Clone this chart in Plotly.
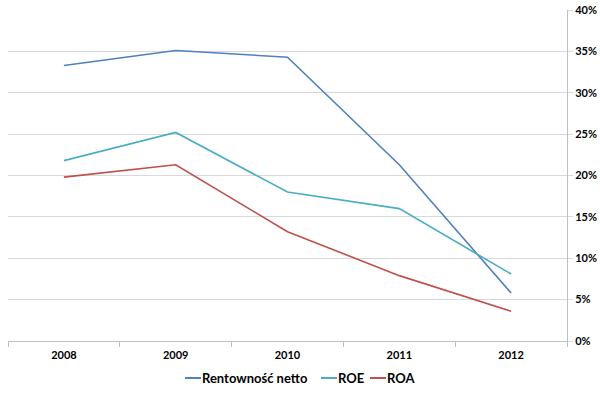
import plotly.graph_objects as go

years = ["2008", "2009", "2010", "2011", "2012"]
rentownosc = [33.3, 35.1, 34.3, 21.3, 5.8]
roe = [21.8, 25.2, 18.0, 16.0, 8.1]
roa = [19.8, 21.3, 13.2, 7.9, 3.6]
series_names = ["Rentowność netto", "ROE", "ROA"]
colors = ["#4F81BD", "#4BACC6", "#C0504D"]
yticks = [0, 5, 10, 15, 20, 25, 30, 35, 40]
ytick_labels = [f"{v}%" for v in yticks]

fig = go.Figure()
for name, vals, col in zip(series_names, [rentownosc, roe, roa], colors):
    fig.add_trace(go.Scatter(x=years, y=vals, mode="lines", name=name,
                             line=dict(color=col, width=1.6)))

W, H = 600, 393
ML, MR, MT, MB = 8, 33, 10, 52
pw, ph = W - ML - MR, H - MT - MB

def px_x(p):
    return (p - ML) / pw

def px_y(p):
    return (H - MB - p) / ph

# manual compact legend (short line samples like the original)
legend_starts = [185, 321, 370]
ly = px_y(378)
for name, col, x0 in zip(series_names, colors, legend_starts):
    fig.add_shape(type="line", xref="paper", yref="paper",
                  x0=px_x(x0), x1=px_x(x0 + 16), y0=ly, y1=ly,
                  line=dict(color=col, width=2))
    fig.add_annotation(xref="paper", yref="paper", x=px_x(x0 + 15), y=ly,
                       text=name, showarrow=False, xanchor="left", yanchor="middle",
                       font=dict(size=13, family="Lato", color="#000000", weight="bold"))

fig.update_layout(
    width=W, height=H,
    margin=dict(l=ML, r=MR, t=MT, b=MB, autoexpand=False),
    plot_bgcolor="white", paper_bgcolor="white",
    font=dict(family="Lato", color="#000000"),
    showlegend=False,
    xaxis=dict(type="category", tickson="boundaries", ticks="outside", ticklen=5,
               tickcolor="#BFBFBF", showline=True, linecolor="#BFBFBF",
               showgrid=False, automargin=False, ticklabelstandoff=4,
               tickfont=dict(size=11, family="Lato", weight="bold"),
               range=[-0.5, 4.5]),
    yaxis=dict(side="right", range=[0, 40], tickvals=yticks, ticktext=ytick_labels,
               showgrid=True, gridcolor="#D9D9D9", gridwidth=1, automargin=False,
               showline=True, linecolor="#BFBFBF", ticks="outside", ticklen=5,
               tickcolor="#D9D9D9", zeroline=False, ticklabeloverflow="allow",
               tickfont=dict(size=11, family="Lato", weight="bold")),
)

fig.write_html("out.html", config={"displayModeBar": False},
               post_script="document.body.style.margin='0';")
